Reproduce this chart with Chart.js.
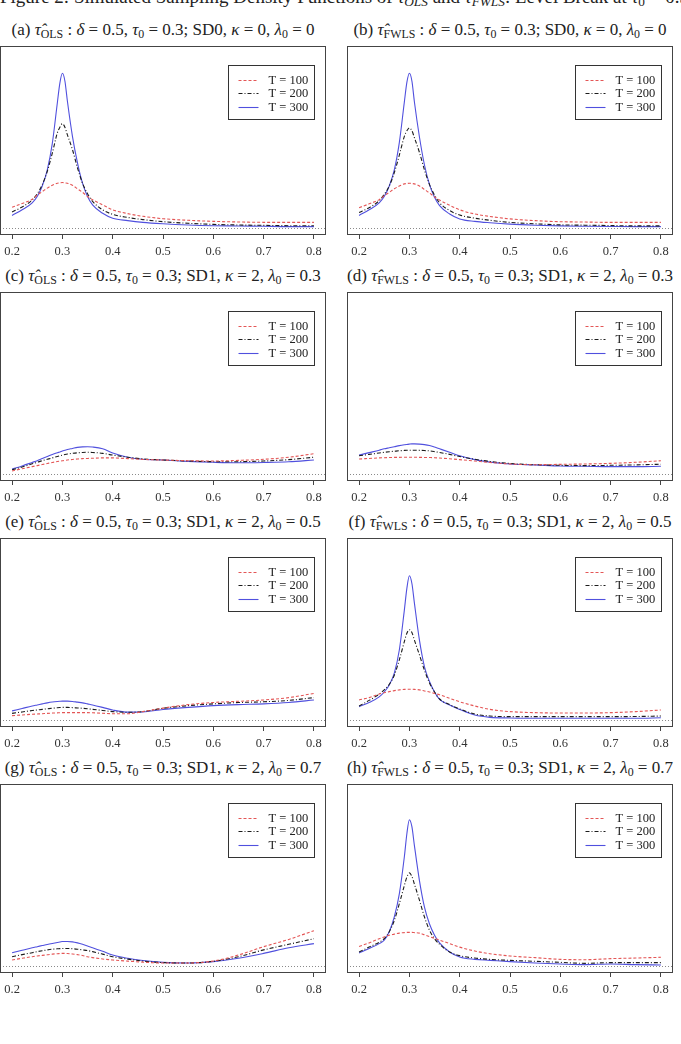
<!DOCTYPE html>
<html>
<head>
<meta charset="utf-8">
<script src="https://cdn.jsdelivr.net/npm/chart.js@4"></script>
<style>
  body { margin: 0; width: 681px; height: 1044px; overflow: hidden; background: #fff; position: relative; font-family: "Liberation Serif", serif; color: #222; }
  .caption { position: absolute; left: 0px; top: -14px; font-size: 19px; line-height: 22px; white-space: nowrap; }
  .title { position: absolute; width: 366px; text-align: center; font-size: 17px; white-space: nowrap; height: 20px; line-height: 20px; }
  sub { font-size: 70%; vertical-align: -3px; line-height: 0; }
  canvas { position: absolute; }
</style>
</head>
<body>
<div class="caption">Figure 2: Simulated Sampling Density Functions of <i>τ̂</i><sub><i>OLS</i></sub> and <i>τ̂</i><sub><i>FWLS</i></sub>: Level Break at <i>τ</i><sub>0</sub> = 0.3</div>

<div class="title" id="ta">(a) <i>τ̂</i><sub>OLS</sub> : <i>δ</i> = 0.5, <i>τ</i><sub>0</sub> = 0.3; SD0, <i>κ</i> = 0, <i>λ</i><sub>0</sub> = 0</div>
<div class="title" id="tb">(b) <i>τ̂</i><sub>FWLS</sub> : <i>δ</i> = 0.5, <i>τ</i><sub>0</sub> = 0.3; SD0, <i>κ</i> = 0, <i>λ</i><sub>0</sub> = 0</div>
<div class="title" id="tc">(c) <i>τ̂</i><sub>OLS</sub> : <i>δ</i> = 0.5, <i>τ</i><sub>0</sub> = 0.3; SD1, <i>κ</i> = 2, <i>λ</i><sub>0</sub> = 0.3</div>
<div class="title" id="td">(d) <i>τ̂</i><sub>FWLS</sub> : <i>δ</i> = 0.5, <i>τ</i><sub>0</sub> = 0.3; SD1, <i>κ</i> = 2, <i>λ</i><sub>0</sub> = 0.3</div>
<div class="title" id="te">(e) <i>τ̂</i><sub>OLS</sub> : <i>δ</i> = 0.5, <i>τ</i><sub>0</sub> = 0.3; SD1, <i>κ</i> = 2, <i>λ</i><sub>0</sub> = 0.5</div>
<div class="title" id="tf">(f) <i>τ̂</i><sub>FWLS</sub> : <i>δ</i> = 0.5, <i>τ</i><sub>0</sub> = 0.3; SD1, <i>κ</i> = 2, <i>λ</i><sub>0</sub> = 0.5</div>
<div class="title" id="tg">(g) <i>τ̂</i><sub>OLS</sub> : <i>δ</i> = 0.5, <i>τ</i><sub>0</sub> = 0.3; SD1, <i>κ</i> = 2, <i>λ</i><sub>0</sub> = 0.7</div>
<div class="title" id="th">(h) <i>τ̂</i><sub>FWLS</sub> : <i>δ</i> = 0.5, <i>τ</i><sub>0</sub> = 0.3; SD1, <i>κ</i> = 2, <i>λ</i><sub>0</sub> = 0.7</div>

<canvas id="ca" width="328" height="214"></canvas>
<canvas id="cb" width="328" height="214"></canvas>
<canvas id="cc" width="328" height="214"></canvas>
<canvas id="cd" width="328" height="214"></canvas>
<canvas id="ce" width="328" height="214"></canvas>
<canvas id="cf" width="328" height="214"></canvas>
<canvas id="cg" width="328" height="214"></canvas>
<canvas id="ch" width="328" height="214"></canvas>

<script>
// grid of tau values the densities were read at
const taus = [0.2, 0.22, 0.24, 0.25, 0.26, 0.27, 0.28, 0.29, 0.295, 0.3, 0.305, 0.31, 0.32, 0.33,
  0.34, 0.35, 0.36, 0.38, 0.40, 0.43, 0.46, 0.5, 0.55, 0.6, 0.65, 0.7, 0.75, 0.8]
const tickValues = [0.2, 0.3, 0.4, 0.5, 0.6, 0.7, 0.8]
const tickLabels = ['0.2', '0.3', '0.4', '0.5', '0.6', '0.7', '0.8']
const seriesLabels = ['T = 100', 'T = 200', 'T = 300']

// (a) OLS, SD0
const a100 = [2.95, 3.5, 4.1, 4.7, 5.2, 5.7, 6.1, 6.4, 6.45, 6.5, 6.45, 6.4, 6.1, 5.6, 5.1, 4.5, 4.05, 3.3, 2.6, 2.05, 1.67, 1.33, 1.1, 0.95, 0.86, 0.81, 0.8, 0.8]
const a200 = [2.3, 3.0, 4.0, 4.9, 6.2, 8.1, 10.7, 13.6, 14.4, 14.9, 14.4, 13.3, 11.2, 8.6, 6.4, 4.9, 3.8, 2.6, 1.95, 1.5, 1.2, 0.9, 0.67, 0.52, 0.43, 0.38, 0.33, 0.33]
const a300 = [1.8, 2.6, 3.6, 4.5, 6.0, 8.3, 12.1, 17.9, 20.7, 22.1, 21.0, 18.1, 13.1, 9.3, 6.4, 4.5, 3.3, 2.1, 1.4, 1.05, 0.8, 0.6, 0.43, 0.33, 0.29, 0.24, 0.2, 0.2]
// (b) FWLS, SD0
const b100 = [2.9, 3.45, 4.05, 4.6, 5.1, 5.6, 6.0, 6.3, 6.35, 6.4, 6.35, 6.3, 6.0, 5.5, 5.0, 4.45, 4.0, 3.25, 2.6, 2.0, 1.65, 1.3, 1.05, 0.9, 0.85, 0.8, 0.8, 0.8]
const b200 = [2.2, 2.9, 3.9, 4.8, 6.0, 7.9, 10.4, 13.1, 13.9, 14.3, 13.9, 12.9, 10.8, 8.3, 6.2, 4.7, 3.6, 2.5, 1.85, 1.4, 1.1, 0.8, 0.6, 0.45, 0.4, 0.35, 0.3, 0.3]
const b300 = [1.8, 2.6, 3.6, 4.5, 6.0, 8.3, 12.2, 18.0, 20.8, 22.1, 21.0, 18.0, 13.0, 9.0, 6.2, 4.4, 3.2, 2.0, 1.3, 0.95, 0.75, 0.55, 0.4, 0.3, 0.25, 0.22, 0.2, 0.2]
// (c) OLS, SD1, lambda0 = 0.3
const c100 = [0.43, 0.75, 1.05, 1.2, 1.35, 1.5, 1.65, 1.78, 1.84, 1.9, 1.95, 2.0, 2.08, 2.15, 2.2, 2.22, 2.25, 2.3, 2.3, 2.2, 2.08, 2.0, 1.9, 1.86, 1.95, 2.1, 2.4, 2.9]
const c200 = [0.6, 1.0, 1.45, 1.67, 1.9, 2.1, 2.3, 2.5, 2.6, 2.7, 2.78, 2.85, 2.95, 3.03, 3.08, 3.1, 3.08, 2.95, 2.7, 2.4, 2.15, 2.0, 1.86, 1.76, 1.76, 1.86, 2.05, 2.4]
const c300 = [0.7, 1.15, 1.65, 1.9, 2.2, 2.5, 2.8, 3.05, 3.15, 3.3, 3.4, 3.5, 3.65, 3.8, 3.88, 3.9, 3.85, 3.6, 3.0, 2.4, 2.1, 2.0, 1.8, 1.67, 1.6, 1.65, 1.75, 2.0]
// (d) FWLS, SD1, lambda0 = 0.3
const d100 = [2.14, 2.22, 2.3, 2.33, 2.35, 2.37, 2.38, 2.4, 2.4, 2.4, 2.4, 2.4, 2.38, 2.36, 2.35, 2.33, 2.28, 2.18, 2.05, 1.85, 1.65, 1.43, 1.33, 1.38, 1.43, 1.52, 1.67, 1.9]
const d200 = [2.6, 2.8, 3.0, 3.1, 3.18, 3.25, 3.32, 3.37, 3.39, 3.4, 3.4, 3.4, 3.38, 3.35, 3.3, 3.2, 3.08, 2.8, 2.5, 2.1, 1.8, 1.5, 1.33, 1.24, 1.2, 1.24, 1.3, 1.4]
const d300 = [2.7, 3.05, 3.4, 3.6, 3.75, 3.9, 4.05, 4.17, 4.22, 4.27, 4.3, 4.3, 4.27, 4.2, 4.07, 3.85, 3.6, 3.1, 2.6, 2.05, 1.7, 1.43, 1.3, 1.15, 1.1, 1.05, 1.05, 1.1]
// (e) OLS, SD1, lambda0 = 0.5
const e100 = [0.62, 0.72, 0.82, 0.86, 0.9, 0.95, 0.99, 1.02, 1.04, 1.05, 1.05, 1.05, 1.05, 1.05, 1.05, 1.05, 1.03, 0.97, 0.9, 0.9, 1.2, 1.7, 2.2, 2.5, 2.67, 2.86, 3.2, 3.8]
const e200 = [0.95, 1.15, 1.35, 1.43, 1.52, 1.6, 1.68, 1.75, 1.78, 1.8, 1.8, 1.8, 1.77, 1.72, 1.67, 1.6, 1.52, 1.36, 1.2, 1.1, 1.2, 1.67, 2.05, 2.3, 2.5, 2.6, 2.8, 3.2]
const e300 = [1.3, 1.65, 2.0, 2.15, 2.3, 2.45, 2.57, 2.65, 2.68, 2.7, 2.7, 2.7, 2.65, 2.55, 2.45, 2.3, 2.15, 1.8, 1.43, 1.12, 1.15, 1.5, 1.8, 2.05, 2.2, 2.3, 2.5, 2.86]
// (f) FWLS, SD1, lambda0 = 0.5
const f100 = [2.86, 3.2, 3.7, 3.9, 4.05, 4.2, 4.3, 4.38, 4.4, 4.4, 4.4, 4.38, 4.3, 4.15, 4.0, 3.8, 3.6, 3.1, 2.6, 2.0, 1.52, 1.2, 1.05, 1.0, 1.0, 1.05, 1.2, 1.43]
const f200 = [2.0, 2.8, 3.7, 4.3, 5.1, 6.4, 8.6, 11.2, 12.4, 12.9, 12.5, 11.4, 9.3, 7.1, 5.3, 4.0, 3.0, 2.2, 1.57, 0.86, 0.57, 0.48, 0.48, 0.48, 0.48, 0.48, 0.5, 0.57]
const f300 = [1.9, 2.5, 3.3, 4.0, 5.0, 6.7, 10.0, 15.7, 18.8, 20.6, 19.5, 16.7, 11.4, 7.6, 5.5, 4.0, 2.95, 2.14, 1.5, 0.71, 0.38, 0.29, 0.24, 0.24, 0.24, 0.24, 0.24, 0.33]
// (g) OLS, SD1, lambda0 = 0.7
const g100 = [0.86, 1.1, 1.33, 1.43, 1.52, 1.6, 1.7, 1.76, 1.78, 1.8, 1.8, 1.78, 1.72, 1.62, 1.5, 1.33, 1.2, 1.0, 0.86, 0.7, 0.55, 0.43, 0.43, 0.71, 1.57, 2.76, 3.8, 5.05]
const g200 = [1.33, 1.62, 1.9, 2.05, 2.18, 2.3, 2.4, 2.46, 2.48, 2.5, 2.5, 2.5, 2.47, 2.4, 2.3, 2.2, 2.05, 1.7, 1.33, 0.98, 0.7, 0.48, 0.43, 0.67, 1.33, 2.3, 3.1, 3.9]
const g300 = [1.9, 2.25, 2.6, 2.76, 2.92, 3.08, 3.22, 3.35, 3.42, 3.5, 3.5, 3.5, 3.45, 3.3, 3.1, 2.86, 2.6, 2.1, 1.57, 1.1, 0.78, 0.52, 0.43, 0.62, 1.1, 1.8, 2.6, 3.2]
// (h) FWLS, SD1, lambda0 = 0.7
const h100 = [2.8, 3.3, 3.9, 4.15, 4.4, 4.55, 4.7, 4.77, 4.8, 4.8, 4.8, 4.77, 4.7, 4.45, 4.2, 3.95, 3.7, 3.2, 2.7, 2.14, 1.76, 1.43, 1.19, 0.95, 0.9, 1.05, 1.14, 1.24]
const h200 = [2.0, 2.7, 3.4, 3.9, 4.9, 6.5, 8.9, 11.5, 12.7, 13.3, 12.8, 11.7, 9.4, 7.0, 5.1, 3.9, 3.1, 2.0, 1.48, 1.14, 0.95, 0.81, 0.67, 0.52, 0.38, 0.48, 0.48, 0.48]
const h300 = [1.86, 2.5, 3.2, 3.7, 4.9, 7.0, 10.3, 15.6, 18.9, 20.9, 19.9, 17.2, 12.2, 8.4, 6.0, 4.4, 3.3, 2.0, 1.29, 0.95, 0.81, 0.62, 0.43, 0.29, 0.19, 0.29, 0.19, 0.14]

const panels = [
  ['a', [a100, a200, a300]], ['b', [b100, b200, b300]],
  ['c', [c100, c200, c300]], ['d', [d100, d200, d300]],
  ['e', [e100, e200, e300]], ['f', [f100, f200, f300]],
  ['g', [g100, g200, g300]], ['h', [h100, h200, h300]]
]

const lineStyles = [
  { color: 'rgb(228,86,86)', dash: [3, 2] },
  { color: '#1c1c1c', dash: [4, 2, 1, 2] },
  { color: 'rgb(80,80,222)', dash: [] }
]

const boxLefts = [0, 347]
const boxTops = [46, 292, 538, 784]
const serif = '"Liberation Serif", serif'

// box round the plot, dotted zero line, legend
const framePlugin = {
  id: 'frame',
  beforeDatasetsDraw(chart) {
    const { ctx, chartArea } = chart
    const y = Math.round(chart.scales.y.getPixelForValue(0)) + 0.5
    ctx.save()
    ctx.strokeStyle = '#8a8a8a'
    ctx.lineWidth = 1
    ctx.setLineDash([1, 2])
    ctx.beginPath()
    ctx.moveTo(chartArea.left, y)
    ctx.lineTo(chartArea.right, y)
    ctx.stroke()
    ctx.restore()
  },
  afterDraw(chart) {
    const { ctx, chartArea } = chart
    ctx.save()
    ctx.strokeStyle = '#444'
    ctx.lineWidth = 1
    ctx.strokeRect(chartArea.left + 0.5, chartArea.top + 0.5, chartArea.width - 1, chartArea.height - 1)

    const right = Math.round(chart.scales.x.getPixelForValue(0.8)) + 0.5
    const w = 86, h = 54
    const left = right - w
    const top = chartArea.top + 19.5
    ctx.strokeStyle = '#333'
    ctx.strokeRect(left, top, w, h)
    chart.data.datasets.forEach((ds, i) => {
      const y = Math.round(top + 14 + i * 13.5) + 0.5
      ctx.strokeStyle = ds.borderColor
      ctx.lineWidth = ds.borderWidth
      ctx.setLineDash(ds.borderDash)
      ctx.beginPath()
      ctx.moveTo(left + 10, y)
      ctx.lineTo(left + 30, y)
      ctx.stroke()
      ctx.setLineDash([])
      ctx.fillStyle = '#222'
      ctx.font = '12.5px ' + serif
      ctx.textBaseline = 'middle'
      ctx.textAlign = 'left'
      ctx.fillText(ds.label, left + 40, y)
    })
    ctx.restore()
  }
}

panels.forEach(([id, series], k) => {
  const col = k % 2, row = Math.floor(k / 2)
  const canvas = document.getElementById('c' + id)
  canvas.style.left = (boxLefts[col] - 1) + 'px'
  canvas.style.top = (boxTops[row] - 1) + 'px'
  const title = document.getElementById('t' + id)
  title.style.left = (boxLefts[col] - 20) + 'px'
  title.style.top = (boxTops[row] - 26) + 'px'

  new Chart(canvas, {
    type: 'line',
    data: {
      datasets: series.map((ys, i) => ({
        label: seriesLabels[i],
        data: taus.map((t, j) => ({ x: t, y: ys[j] })),
        borderColor: lineStyles[i].color,
        borderDash: lineStyles[i].dash,
        borderWidth: 1.1,
        pointRadius: 0,
        fill: false,
        cubicInterpolationMode: 'monotone'
      }))
    },
    options: {
      responsive: false,
      animation: false,
      layout: { padding: { left: 1, right: 1, top: 1, bottom: 0 } },
      scales: {
        x: {
          type: 'linear',
          min: 0.176,
          max: 0.824,
          afterBuildTicks: scale => { scale.ticks = tickValues.map(v => ({ value: v })) },
          afterFit: scale => { scale.height = 24 },
          grid: { drawOnChartArea: false, drawTicks: true, tickLength: 4, color: '#444' },
          border: { display: false },
          ticks: {
            padding: 5,
            color: '#333',
            maxRotation: 0,
            autoSkip: false,
            font: { family: serif, size: 12.5 },
            callback: (v, i) => tickLabels[i]
          }
        },
        y: { display: false, min: -1, max: 26 }
      },
      plugins: {
        legend: { display: false },
        tooltip: { enabled: false }
      }
    },
    plugins: [framePlugin]
  })
})
</script>
</body>
</html>
